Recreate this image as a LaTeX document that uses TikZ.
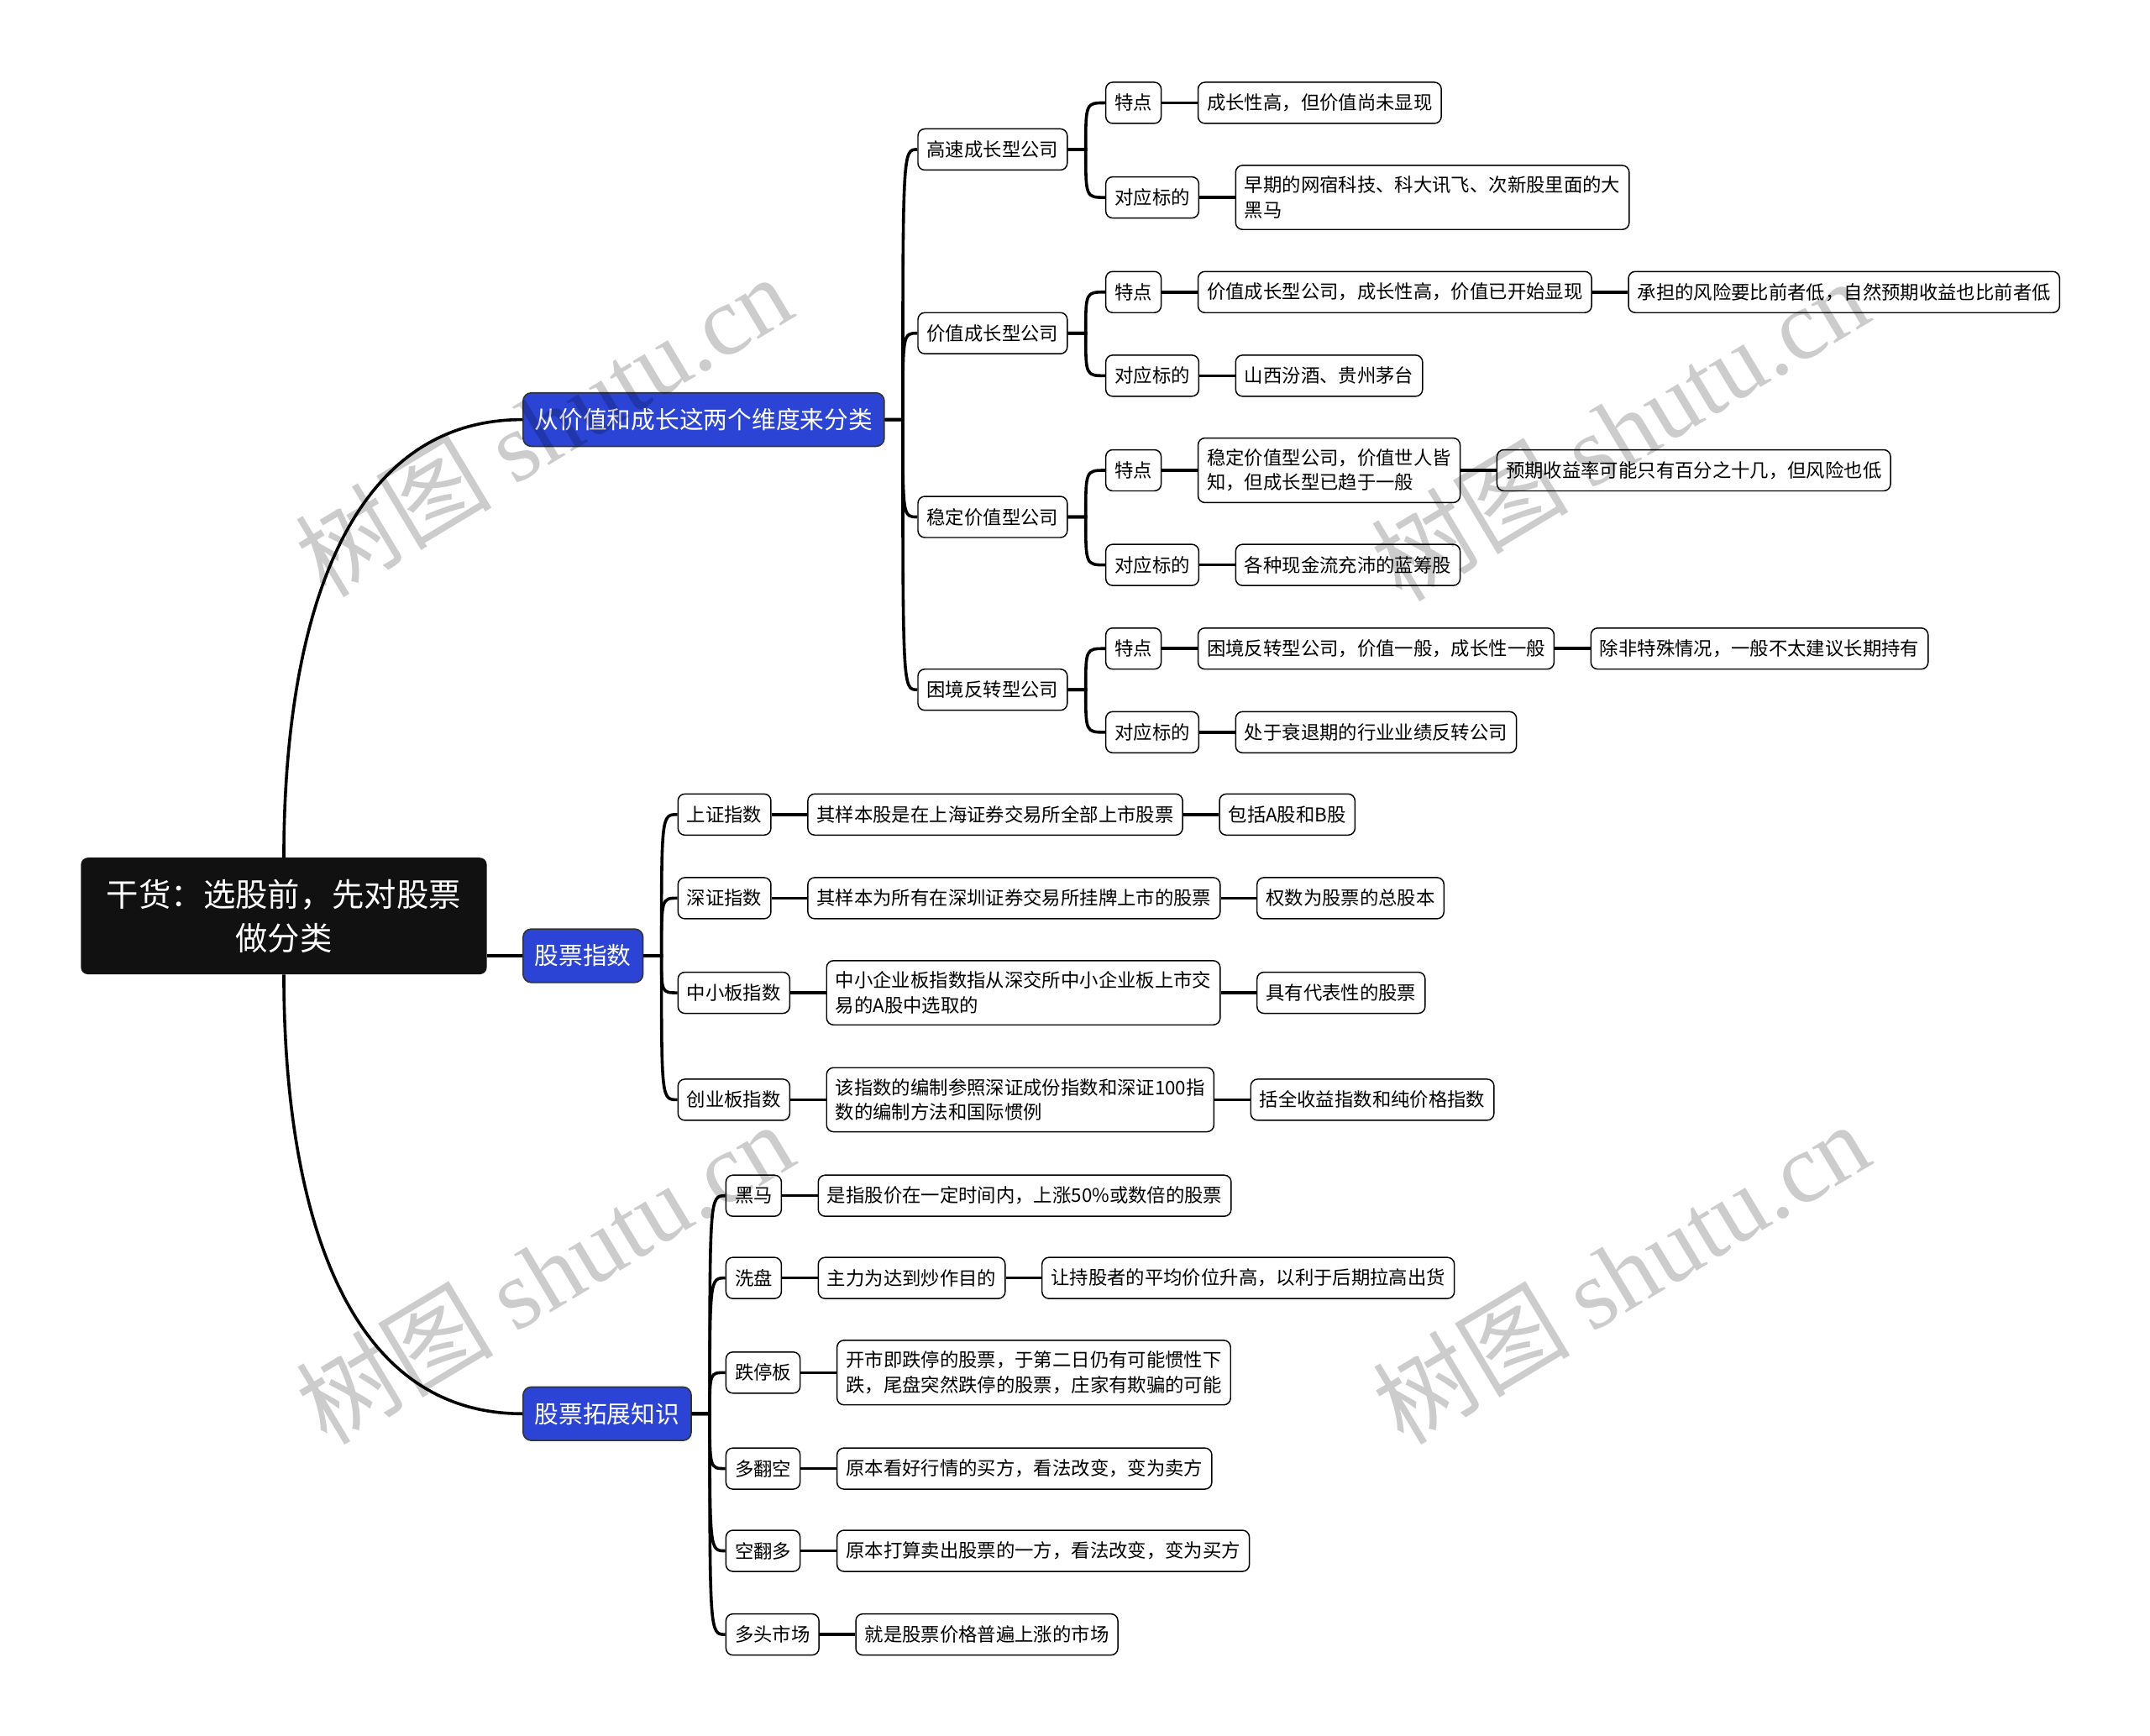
\documentclass[tikz,border=0pt]{standalone}
\usepackage{fontspec}
\setmainfont{Noto Sans CJK SC}
\newfontfamily\wmfont{Liberation Serif}
\usetikzlibrary{positioning}
\definecolor{topicblue}{RGB}{43,68,214}
\definecolor{rootblack}{RGB}{17,17,17}

\begin{document}
\begin{tikzpicture}[
    x=1pt, y=-1pt,
    node distance=26pt,
    root/.style={fill=rootblack, text=white, rounded corners=5pt, minimum width=296pt, minimum height=85pt, align=center, font=\fontsize{23.5}{32}\selectfont},
    topic/.style={draw=black!80, line width=1pt, fill=topicblue, text=white, rounded corners=6pt, minimum height=39pt, inner xsep=8.5pt, anchor=west, font=\fontsize{17.6}{22}\selectfont},
    leaf/.style={draw, line width=0.9pt, fill=white, rounded corners=5pt, minimum height=30pt, inner xsep=6.5pt, inner ysep=8pt, anchor=west, align=left, font=\fontsize{13.7}{18}\selectfont},
    link/.style={line width=2.2pt},
    wmark/.style={text=black, opacity=0.2, rotate=31, font=\fontsize{72}{72}\selectfont}
]
\useasboundingbox (0,0) rectangle (1568,1266);

% Nodes
\node[root] (root) at (207,668) {干货：选股前，先对股票\\做分类};
\node[topic] (value) at (381,306) {从价值和成长这两个维度来分类};
\node[topic] (index) at (381,697) {股票指数};
\node[topic] (extra) at (381,1031) {股票拓展知识};

\node[leaf] (fast) at (669,109) {高速成长型公司};
\node[leaf] (vgrow) at (669,243) {价值成长型公司};
\node[leaf] (stable) at (669,377) {稳定价值型公司};
\node[leaf] (turn) at (669,503) {困境反转型公司};

\node[leaf] (fast-a) at (806,75) {特点};
\node[leaf, right=of fast-a] (fast-a1) {成长性高，但价值尚未显现};
\node[leaf] (fast-b) at (806,144) {对应标的};
\node[leaf, right=of fast-b] (fast-b1) {早期的网宿科技、科大讯飞、次新股里面的大\\黑马};
\node[leaf] (vgrow-a) at (806,213) {特点};
\node[leaf, right=of vgrow-a] (vgrow-a1) {价值成长型公司，成长性高，价值已开始显现};
\node[leaf, right=of vgrow-a1] (vgrow-a2) {承担的风险要比前者低，自然预期收益也比前者低};
\node[leaf] (vgrow-b) at (806,274) {对应标的};
\node[leaf, right=of vgrow-b] (vgrow-b1) {山西汾酒、贵州茅台};
\node[leaf] (stable-a) at (806,343) {特点};
\node[leaf, right=of stable-a] (stable-a1) {稳定价值型公司，价值世人皆\\知，但成长型已趋于一般};
\node[leaf, right=of stable-a1] (stable-a2) {预期收益率可能只有百分之十几，但风险也低};
\node[leaf] (stable-b) at (806,412) {对应标的};
\node[leaf, right=of stable-b] (stable-b1) {各种现金流充沛的蓝筹股};
\node[leaf] (turn-a) at (806,473) {特点};
\node[leaf, right=of turn-a] (turn-a1) {困境反转型公司，价值一般，成长性一般};
\node[leaf, right=of turn-a1] (turn-a2) {除非特殊情况，一般不太建议长期持有};
\node[leaf] (turn-b) at (806,534) {对应标的};
\node[leaf, right=of turn-b] (turn-b1) {处于衰退期的行业业绩反转公司};

\node[leaf] (sh) at (494,594) {上证指数};
\node[leaf, right=of sh] (sh1) {其样本股是在上海证券交易所全部上市股票};
\node[leaf, right=of sh1] (sh2) {包括A股和B股};
\node[leaf] (sz) at (494,655) {深证指数};
\node[leaf, right=of sz] (sz1) {其样本为所有在深圳证券交易所挂牌上市的股票};
\node[leaf, right=of sz1] (sz2) {权数为股票的总股本};
\node[leaf] (sme) at (494,724) {中小板指数};
\node[leaf, right=of sme] (sme1) {中小企业板指数指从深交所中小企业板上市交\\易的A股中选取的};
\node[leaf, right=of sme1] (sme2) {具有代表性的股票};
\node[leaf] (gem) at (494,802) {创业板指数};
\node[leaf, right=of gem] (gem1) {该指数的编制参照深证成份指数和深证100指\\数的编制方法和国际惯例};
\node[leaf, right=of gem1] (gem2) {括全收益指数和纯价格指数};

\node[leaf] (dark) at (529,872) {黑马};
\node[leaf, right=of dark] (dark1) {是指股价在一定时间内，上涨50\%或数倍的股票};
\node[leaf] (wash) at (529,932) {洗盘};
\node[leaf, right=of wash] (wash1) {主力为达到炒作目的};
\node[leaf, right=of wash1] (wash2) {让持股者的平均价位升高，以利于后期拉高出货};
\node[leaf] (limit) at (529,1001) {跌停板};
\node[leaf, right=of limit] (limit1) {开市即跌停的股票，于第二日仍有可能惯性下\\跌，尾盘突然跌停的股票，庄家有欺骗的可能};
\node[leaf] (bear) at (529,1071) {多翻空};
\node[leaf, right=of bear] (bear1) {原本看好行情的买方，看法改变，变为卖方};
\node[leaf] (bull) at (529,1131) {空翻多};
\node[leaf, right=of bull] (bull1) {原本打算卖出股票的一方，看法改变，变为买方};
\node[leaf] (market) at (529,1192) {多头市场};
\node[leaf, right=of market] (market1) {就是股票价格普遍上涨的市场};

% Links
\draw[link] (root.north) .. controls +(0,-142) and +(-142,0) .. (value.west);
\draw[link] (root.east |- index.west) -- (index.west);
\draw[link] (root.south) .. controls +(0,142) and +(-142,0) .. (extra.west);

\foreach \p/\cs in {value/{fast,vgrow,stable,turn}, index/{sh,sz,sme,gem},
    extra/{dark,wash,limit,bear,bull,market}, fast/{fast-a,fast-b},
    vgrow/{vgrow-a,vgrow-b}, stable/{stable-a,stable-b}, turn/{turn-a,turn-b}} {
  \coordinate (\p-j) at ([xshift=13pt]\p.east);
  \foreach \c in \cs
    \draw[link] (\p.east) -- (\p-j) .. controls (\p-j |- \c.west) .. (\c.west);
}

\foreach \a/\b in {fast-a/fast-a1, fast-b/fast-b1, vgrow-a/vgrow-a1, vgrow-a1/vgrow-a2,
    vgrow-b/vgrow-b1, stable-a/stable-a1, stable-a1/stable-a2, stable-b/stable-b1,
    turn-a/turn-a1, turn-a1/turn-a2, turn-b/turn-b1, sh/sh1, sh1/sh2, sz/sz1, sz1/sz2,
    sme/sme1, sme1/sme2, gem/gem1, gem1/gem2, dark/dark1, wash/wash1, wash1/wash2,
    limit/limit1, bear/bear1, bull/bull1, market/market1}
  \draw[link] (\a.east) -- (\b.west);

% Watermarks
\foreach \x/\y [count=\i] in {396/310, 1181/313, 397/928, 1182/928}
  \node[wmark] (wm\i) at (\x,\y) {树图 {\wmfont shutu.cn}};
\end{tikzpicture}
\end{document}
